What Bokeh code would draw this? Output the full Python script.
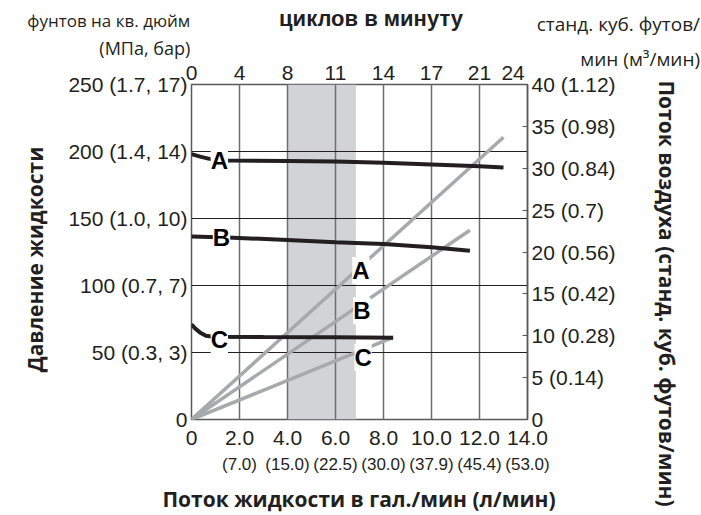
import math
from bokeh.plotting import figure
from bokeh.models import Range1d, LinearAxis, FixedTicker, Label, BoxAnnotation
from bokeh.core.properties import value
from bokeh.embed import file_html
from bokeh.resources import INLINE

# ---- data ----
gpm_ticks = [0, 2, 4, 6, 8, 10, 12, 14]
gpm_labels = ["0", "2.0", "4.0", "6.0", "8.0", "10.0", "12.0", "14.0"]
lpm_labels = ["", "(7.0)", "(15.0)", "(22.5)", "(30.0)", "(37.9)", "(45.4)", "(53.0)"]
cycle_pos = [0, 2, 4, 6, 8, 10, 12, 13.4]
cycle_labels = ["0", "4", "8", "11", "14", "17", "21", "24"]
psi_ticks = [0, 50, 100, 150, 200, 250]
psi_labels = ["0", "50 (0.3, 3)", "100 (0.7, 7)", "150 (1.0, 10)", "200 (1.4, 14)", "250 (1.7, 17)"]
scfm_ticks = [0, 5, 10, 15, 20, 25, 30, 35, 40]
scfm_labels = ["0", "5 (0.14)", "10 (0.28)", "15 (0.42)", "20 (0.56)", "25 (0.7)",
               "30 (0.84)", "35 (0.98)", "40 (1.12)"]

# fluid pressure curves (psi) vs fluid flow (gpm)
pA_x = [0, 0.4, 0.75, 1.5, 4, 6, 8, 10, 12, 13.0]
pA_y = [198, 196, 194.5, 193.3, 193, 192.6, 191.6, 190.3, 189, 188]
pB_x = [0, 1.5, 4, 6, 8, 10, 11.6]
pB_y = [136.5, 135.8, 134, 132.3, 131, 128.6, 126]
pC_x = [0, 0.15, 0.35, 0.6, 0.9, 3, 6, 8.4]
pC_y = [71, 68, 65, 62.5, 61.8, 61.5, 61.3, 61]

# air flow (scfm) vs fluid flow (gpm)
aA_x = [0, 13.0]
aA_y = [0, 33.7]
aB_x = [0, 11.6]
aB_y = [0, 22.6]
aC_x = [0, 8.4]
aC_y = [0, 9.8]

shade_start, shade_end = 4.0, 6.85

TXT = "#231f20"
TICK_FONT = "Liberation Sans"
TITLE_FONT = "Open Sans"
TICK_SIZE = "21px"

W, H = 701, 515
p = figure(width=W, height=H, x_range=Range1d(0, 14), y_range=Range1d(0, 250),
           output_backend="svg", toolbar_location=None,
           min_border_left=191, min_border_right=W - 527, min_border_top=84,
           min_border_bottom=H - 419)
p.extra_y_ranges = {"air": Range1d(0, 40)}
p.outline_line_color = "#58595b"
p.outline_line_width = 1.5
p.background_fill_color = "white"

# grids
p.xgrid.ticker = FixedTicker(ticks=gpm_ticks[1:-1])
p.ygrid.ticker = FixedTicker(ticks=psi_ticks[1:-1])
p.xgrid.grid_line_color = "#6d6e71"
p.xgrid.grid_line_width = 1.5
p.ygrid.grid_line_color = "#231f20"
p.ygrid.grid_line_width = 1

# shaded band
p.add_layout(BoxAnnotation(left=shade_start, right=shade_end, fill_color="#d1d3d4",
                           fill_alpha=1.0, line_color=None, level="image"))

def style_axis(ax, size=TICK_SIZE, font=TICK_FONT):
    ax.axis_line_color = None
    ax.major_tick_line_color = None
    ax.minor_tick_line_color = None
    ax.major_tick_out = 0
    ax.major_tick_in = 0
    ax.major_label_text_font = font
    ax.major_label_text_font_size = size
    ax.major_label_text_color = TXT

# bottom axis (gpm)
xa = p.xaxis[0]
xa.ticker = FixedTicker(ticks=gpm_ticks)
xa.major_label_overrides = {t: l for t, l in zip(gpm_ticks, gpm_labels)}
style_axis(xa)
xa.major_label_standoff = 11

# second bottom row (l/min)
xa2 = LinearAxis(ticker=FixedTicker(ticks=gpm_ticks),
                 major_label_overrides={t: l for t, l in zip(gpm_ticks, lpm_labels)})
style_axis(xa2, size="17px")
xa2.major_label_standoff = 7
p.add_layout(xa2, "below")

# top axis (cycles per minute)
xt = LinearAxis(ticker=FixedTicker(ticks=cycle_pos),
                major_label_overrides={t: l for t, l in zip(cycle_pos, cycle_labels)})
style_axis(xt)
xt.major_label_standoff = 5
p.add_layout(xt, "above")

# left axis (psi)
ya = p.yaxis[0]
ya.ticker = FixedTicker(ticks=psi_ticks)
ya.major_label_overrides = {t: l for t, l in zip(psi_ticks, psi_labels)}
style_axis(ya)
ya.major_label_standoff = 4

# right axis (scfm)
yr = LinearAxis(y_range_name="air", ticker=FixedTicker(ticks=scfm_ticks),
                major_label_overrides={t: l for t, l in zip(scfm_ticks, scfm_labels)})
style_axis(yr)
yr.axis_line_color = "#58595b"
yr.axis_line_width = 1.5
yr.major_tick_line_color = "#58595b"
yr.major_tick_in = 5
yr.major_tick_out = 0
yr.major_label_standoff = 4
p.add_layout(yr, "right")

# curves
for xs, ys in [(aA_x, aA_y), (aB_x, aB_y), (aC_x, aC_y)]:
    p.line(xs, ys, y_range_name="air", line_color="#a7a9ac", line_width=3.5)
for xs, ys in [(pA_x, pA_y), (pB_x, pB_y), (pC_x, pC_y)]:
    p.line(xs, ys, line_color=TXT, line_width=4)

def letter(x, y, t, rng="default"):
    p.add_layout(Label(x=x, y=y, text=t, y_range_name=rng, text_font=TICK_FONT,
                       text_font_style="bold", text_font_size="24px", text_color="black",
                       text_align="center", text_baseline="middle",
                       background_fill_color="white", padding=0))

letter(1.16, 193.3, "A")
letter(1.25, 135.8, "B")
letter(1.16, 59.7, "C")
letter(7.06, 17.8, "A", "air")
letter(7.1, 13.0, "B", "air")
letter(7.15, 7.4, "C", "air")

def txt(x, y, t, font=TITLE_FONT, size="17px", style="normal", align="left", angle=0.0):
    p.text(x=[x], y=[y], text=[t], text_font=value(font), text_font_size=value(size),
           text_font_style=style, text_color=TXT, text_align=align,
           text_baseline="middle", angle=angle, level="overlay")

# corner unit texts
txt(-0.05, 297.8, "фунтов на кв. дюйм", align="right")
txt(-0.05, 276.9, "(МПа, бар)", size="18px", align="right")
txt(21.19, 294.8, "станд. куб. футов/", size="19px", align="right")
txt(21.19, 269, "мин (м³/мин)", size="19px", align="right")

# titles
txt(7.48, 299.5, "циклов в минуту", font=TICK_FONT, size="22px", style="bold", align="center")
txt(6.98, -59, "Поток жидкости в гал./мин (л/мин)", size="21px", style="bold", align="center")
txt(-6.52, 119.4, "Давление жидкости", size="21px", style="bold", align="center",
    angle=math.pi / 2)
txt(19.8, 94, "Поток воздуха (станд. куб. футов/мин)", size="21px", style="bold",
    align="center", angle=-math.pi / 2)

open("out.html", "w").write(file_html(p, INLINE))
